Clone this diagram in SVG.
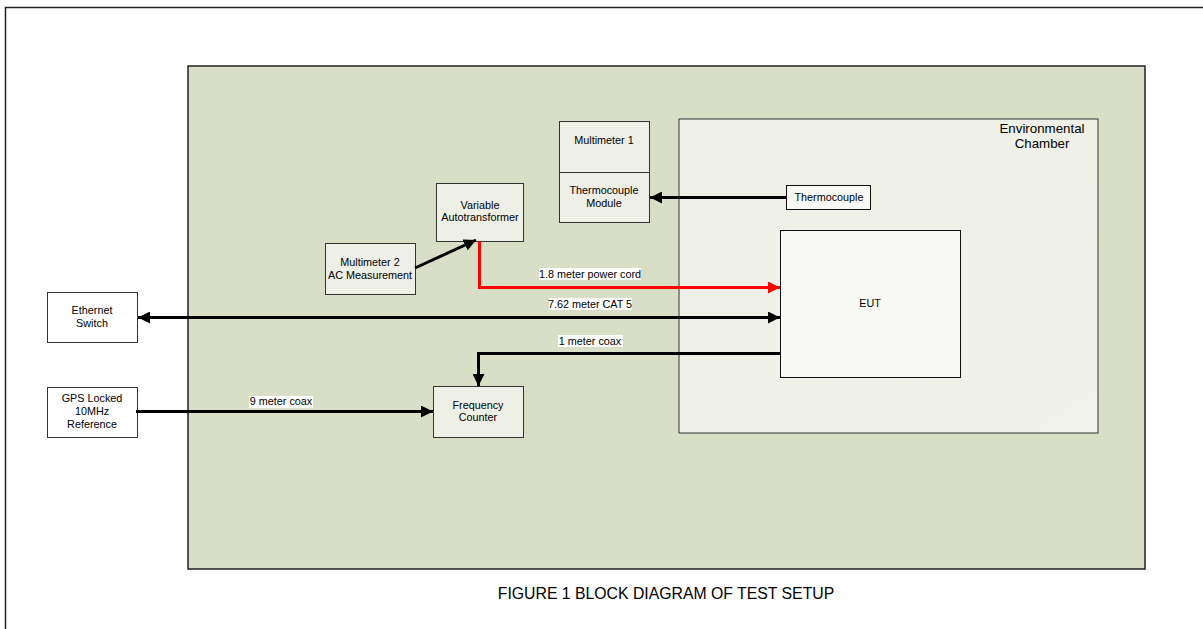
<svg xmlns="http://www.w3.org/2000/svg" width="1203" height="629" viewBox="0 0 1203 629">
<defs>
<marker id="ah" viewBox="0 0 10 10" refX="10" refY="5" markerWidth="4" markerHeight="4" orient="auto-start-reverse" markerUnits="strokeWidth"><path d="M0,0 L10,5 L0,10 z" fill="#000"/></marker>
<marker id="ahr" viewBox="0 0 10 10" refX="10" refY="5" markerWidth="4" markerHeight="4" orient="auto" markerUnits="strokeWidth"><path d="M0,0 L10,5 L0,10 z" fill="#f00"/></marker>
<linearGradient id="cg" x1="0" y1="0" x2="1" y2="1"><stop offset="0" stop-color="#eeefe6"/><stop offset="1" stop-color="#f0f1ea"/></linearGradient>
</defs>
<style>
text{font-family:"Liberation Sans",Arial,sans-serif;fill:#000}
.box{fill:#eeefe6;stroke:#333;stroke-width:1}
.wbox{fill:#fff;stroke:#333;stroke-width:1}
.t{font-size:10.8px;text-anchor:middle}
.c{fill:none;stroke:#000;stroke-width:3}
.lb{fill:#fff}
</style>
<rect width="1203" height="629" fill="#fff"/>
<path d="M5.5,629 V7.5 H1203" fill="none" stroke="#222" stroke-width="1.5"/>
<g id="panel"><rect x="188" y="66" width="957" height="503" fill="#d9dec7" stroke="#222" stroke-width="1.5"/></g>
<g id="chamber"><rect x="679" y="119" width="419" height="314" fill="url(#cg)" stroke="#333" stroke-width="1"/>
<text x="1042" y="133" style="font-size:13.3px;text-anchor:middle">Environmental</text>
<text x="1042" y="148" style="font-size:13.3px;text-anchor:middle">Chamber</text></g>
<g id="eut"><rect x="780.5" y="230.5" width="180" height="147" fill="#f8f9f4" stroke="#111"/><text class="t" x="870" y="307">EUT</text></g>
<g id="thermocouple"><rect x="786.5" y="185.5" width="84" height="24" fill="#f8f9f4" stroke="#111"/><text class="t" x="829" y="201">Thermocouple</text></g>
<g id="multimeter1"><rect class="box" x="559.5" y="121.5" width="90" height="101"/><line x1="559.5" y1="172.5" x2="649.5" y2="172.5" stroke="#333"/>
<text class="t" x="604" y="144">Multimeter 1</text><text class="t" x="604" y="194">Thermocouple</text><text class="t" x="604" y="207">Module</text></g>
<g id="autotransformer"><rect class="box" x="436.5" y="183.5" width="87" height="58"/><text class="t" x="480" y="209">Variable</text><text class="t" x="480" y="221">Autotransformer</text></g>
<g id="multimeter2"><rect class="box" x="325.5" y="243.5" width="90" height="51"/><text class="t" x="370" y="266">Multimeter 2</text><text class="t" x="370" y="279">AC Measurement</text></g>
<g id="ethernet"><rect class="wbox" x="47.5" y="292.5" width="90" height="50"/><text class="t" x="92" y="314">Ethernet</text><text class="t" x="92" y="327">Switch</text></g>
<g id="gps"><rect class="wbox" x="47.5" y="387.5" width="90" height="50"/><text class="t" x="92" y="402">GPS Locked</text><text class="t" x="92" y="415">10MHz</text><text class="t" x="92" y="428">Reference</text></g>
<g id="counter"><rect class="box" x="433.5" y="386.5" width="90" height="51"/><text class="t" x="478" y="409">Frequency</text><text class="t" x="478" y="421">Counter</text></g>
<g id="connectors">
<line class="c" x1="786" y1="197.5" x2="650" y2="197.5" marker-end="url(#ah)"/>
<line class="c" x1="415" y1="268" x2="476" y2="240" marker-end="url(#ah)"/>
<polyline points="479.5,241 479.5,287.5 780,287.5" fill="none" stroke="#f00" stroke-width="3" marker-end="url(#ahr)"/>
<line class="c" x1="138" y1="317.5" x2="780" y2="317.5" marker-start="url(#ah)" marker-end="url(#ah)"/>
<polyline class="c" points="781,353.5 478.5,353.5 478.5,386" marker-end="url(#ah)"/>
<line class="c" x1="136" y1="411.5" x2="433" y2="411.5" marker-end="url(#ah)"/>
<rect class="lb" x="539" y="268" width="102" height="12"/><text class="t" x="590" y="278">1.8 meter power cord</text>
<rect class="lb" x="549" y="298" width="83" height="12"/><text class="t" x="590" y="308">7.62 meter CAT 5</text>
<rect class="lb" x="558" y="335" width="65" height="12"/><text class="t" x="590" y="345">1 meter coax</text>
<rect class="lb" x="249" y="396" width="64" height="12"/><text class="t" x="281" y="405">9 meter coax</text>
</g>
<text x="666" y="599" style="font-size:15.8px;text-anchor:middle">FIGURE 1 BLOCK DIAGRAM OF TEST SETUP</text>
</svg>
